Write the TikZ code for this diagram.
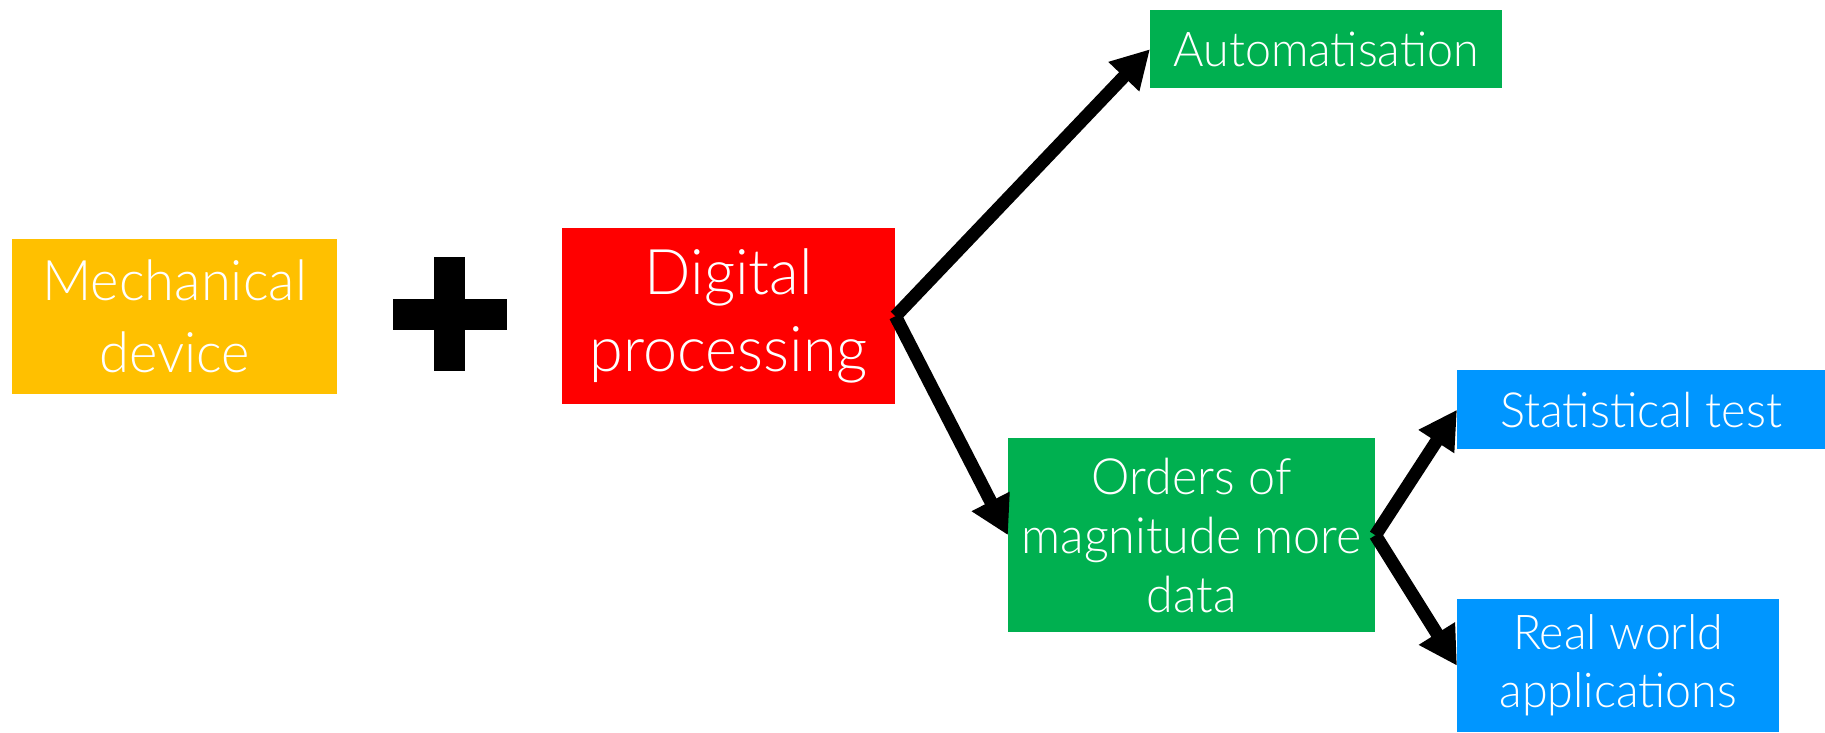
\documentclass[tikz,border=0pt]{standalone}
\usepackage{fontspec}
\setmainfont{Lato Light}
\newfontfamily\fnar{Lato Light}[FakeStretch=0.97]
\usetikzlibrary{arrows.meta}
\definecolor{cyellow}{HTML}{FFC000}
\definecolor{cred}{HTML}{FF0000}
\definecolor{cgreen}{HTML}{00B050}
\definecolor{cblue}{HTML}{0096FF}
\begin{document}
\begin{tikzpicture}[x=1pt,y=-1pt,
  box/.style={rectangle, inner sep=0pt, text=white, align=center, anchor=north west},
  conn/.style={line width=13pt, draw=black, -{Triangle[length=38pt,width=40pt]}}
]
\useasboundingbox (0,0) rectangle (1825,732);
\node[box, fill=cyellow, minimum width=325pt, minimum height=155pt,
  font=\fnar\fontsize{56}{72}\selectfont] (mech) at (12,239) {Mechanical\\device};
\fill[black] (434,257) rectangle (465,371);
\fill[black] (393,299) rectangle (507,330);
\node[box, fill=cred, minimum width=333pt, minimum height=176pt,
  font=\fnar\fontsize{63}{77}\selectfont] (dig) at (562,228) {Digital\\processing};
\node[box, fill=cgreen, minimum width=352pt, minimum height=78pt,
  font=\fnar\fontsize{48}{58}\selectfont] (auto) at (1150,10) {Automatisation};
\node[box, fill=cgreen, minimum width=367pt, minimum height=194pt,
  font=\fnar\fontsize{50}{59}\selectfont] (ord) at (1008,438) {Orders of\\magnitude more\\data};
\node[box, fill=cblue, minimum width=368pt, minimum height=79pt,
  font=\fnar\fontsize{48.5}{58}\selectfont] (stat) at (1457,370) {Statistical test};
\node[box, fill=cblue, minimum width=322pt, minimum height=133pt,
  font=\fnar\fontsize{48}{58}\selectfont] (real) at (1457,599) {Real world\\applications};
\draw[conn] (dig.east) -- (auto.west);
\draw[conn] (dig.east) -- (ord.west);
\draw[conn] (ord.east) -- (stat.west);
\draw[conn] (ord.east) -- (real.west);
\end{tikzpicture}
\end{document}
